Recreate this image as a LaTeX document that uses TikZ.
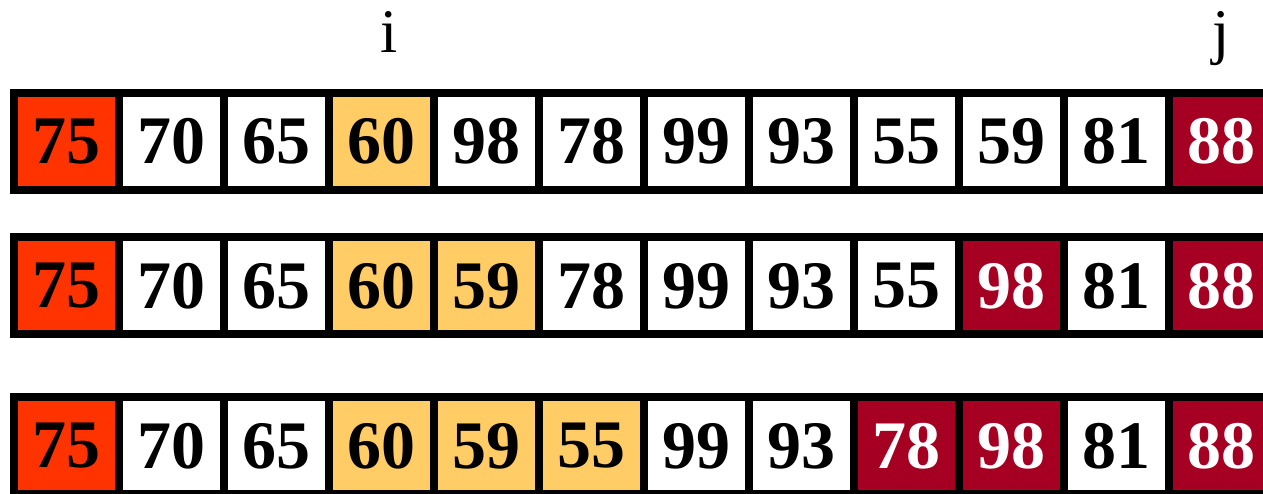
\documentclass[tikz,border=0pt]{standalone}
\usepackage{fontspec}
\setmainfont{Liberation Serif}
\definecolor{pivot}{HTML}{FF3300}
\definecolor{small}{HTML}{FFCC66}
\definecolor{big}{HTML}{A50021}
\tikzset{
  cellbox/.style={draw=black, line width=8pt, minimum width=105pt, minimum height=97pt,
    inner sep=0pt, font=\fontsize{68}{68}\selectfont\bfseries},
  cw/.style={cellbox, fill=white, text=black},
  cp/.style={cellbox, fill=pivot, text=black},
  cs/.style={cellbox, fill=small, text=black},
  cb/.style={cellbox, fill=big, text=white},
  ptr/.style={font=\fontsize{62}{62}\selectfont, anchor=base, inner sep=0pt}
}
\begin{document}
\begin{tikzpicture}[x=1pt,y=1pt]
\useasboundingbox (0,0) rectangle (1263,494);
% row 1
\foreach \v/\s [count=\k from 0] in {75/cp,70/cw,65/cw,60/cs,98/cw,78/cw,99/cw,93/cw,55/cw,59/cw,81/cw,88/cb}
  \node[\s] (a\k) at (66.5+105*\k, 352.5) {\v};
% row 2
\foreach \v/\s [count=\k from 0] in {75/cp,70/cw,65/cw,60/cs,59/cs,78/cw,99/cw,93/cw,55/cw,98/cb,81/cw,88/cb}
  \node[\s] (b\k) at (66.5+105*\k, 208) {\v};
% row 3
\foreach \v/\s [count=\k from 0] in {75/cp,70/cw,65/cw,60/cs,59/cs,55/cs,99/cw,93/cw,78/cb,98/cb,81/cw,88/cb}
  \node[\s] (c\k) at (66.5+105*\k, 48) {\v};
% pointers
\node[ptr] (i) at (389, 441) {i};
\node[ptr] (j) at (1221.5, 441) {j};
\end{tikzpicture}
\end{document}
